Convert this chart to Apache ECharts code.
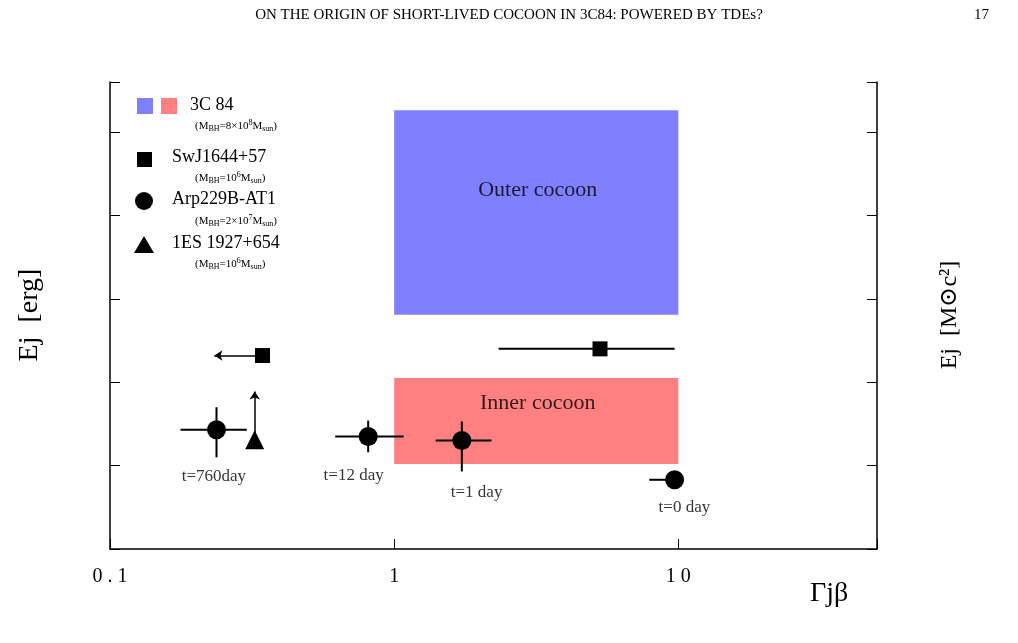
<!DOCTYPE html>
<html><head><meta charset="utf-8">
<script src="https://cdn.jsdelivr.net/npm/echarts@6/dist/echarts.min.js"></script>
<style>html,body{margin:0;background:#fff}#c{width:1018px;height:643px}</style>
</head><body><div id="c"></div>
<script>
// Data (real values)
const xRange = [0.1, 50];
const yRange = [Math.pow(10,49.7), Math.pow(10,55.3)];
const outerCocoon = {x:[1,10], y:[Math.pow(10,52.51), Math.pow(10,54.96)]};
const innerCocoon = {x:[1,10], y:[Math.pow(10,50.72), Math.pow(10,51.75)]};
const swj = {x:5.3, y:Math.pow(10,52.1), xerr:[2.33,9.7]};
const swjLimit = {x:0.344, y:Math.pow(10,52.02), to:0.233};
const arp = [
  {x:0.237,y:Math.pow(10,51.13),xerr:[0.177,0.303],yerr:[Math.pow(10,50.80),Math.pow(10,51.40)],label:'t=760day'},
  {x:0.81,y:Math.pow(10,51.05),xerr:[0.62,1.08],yerr:[Math.pow(10,50.86),Math.pow(10,51.24)],label:'t=12 day'},
  {x:1.73,y:Math.pow(10,51.0),xerr:[1.4,2.2],yerr:[Math.pow(10,50.63),Math.pow(10,51.23)],label:'t=1 day'},
  {x:9.7,y:Math.pow(10,50.53),xerr:[7.9,9.7],yerr:null,label:'t=0 day'}
];
const es1927 = {x:0.323, y:Math.pow(10,51.01), to:Math.pow(10,51.59)};
const labelPos = [[0.232,Math.pow(10,50.57)],[0.72,Math.pow(10,50.58)],[1.95,Math.pow(10,50.38)],[10.5,Math.pow(10,50.2)]];

const L = Math.log10;
const F = '"Liberation Serif","DejaVu Serif",serif';
const series = [];
function seg(a,b){series.push({type:'line',data:[a,b],symbol:'none',lineStyle:{color:'#000',width:2},silent:true,z:3});}
function rect(r,color){series.push({type:'line',data:[],markArea:{silent:true,itemStyle:{color:color,opacity:1},data:[[{coord:[L(r.x[0]),L(r.y[0])]},{coord:[L(r.x[1]),L(r.y[1])]}]]}});}
rect(outerCocoon,'#8080ff'); rect(innerCocoon,'#ff8080');
seg([L(swj.xerr[0]),L(swj.y)],[L(swj.xerr[1]),L(swj.y)]);
arp.forEach(p=>{seg([L(p.xerr[0]),L(p.y)],[L(p.xerr[1]),L(p.y)]); if(p.yerr) seg([L(p.x),L(p.yerr[0])],[L(p.x),L(p.yerr[1])]);});
series.push({type:'line',data:[],markLine:{silent:true,symbol:['none','arrow'],symbolSize:8,label:{show:false},lineStyle:{color:'#000',width:1.5,type:'solid'},data:[
 [{coord:[L(swjLimit.x),L(swjLimit.y)]},{coord:[L(swjLimit.to),L(swjLimit.y)]}],
 [{coord:[L(es1927.x),L(es1927.y)]},{coord:[L(es1927.x),L(es1927.to)]}]]}});
const blk = {color:'#000',opacity:1};
series.push({type:'scatter',symbol:'rect',symbolSize:15,itemStyle:blk,z:5,data:[[L(swj.x),L(swj.y)],[L(swjLimit.x),L(swjLimit.y)]]});
series.push({type:'scatter',symbol:'circle',symbolSize:19,itemStyle:blk,z:5,data:arp.map(p=>[L(p.x),L(p.y)])});
series.push({type:'scatter',symbol:'triangle',symbolSize:19,itemStyle:blk,z:5,data:[[L(es1927.x),L(es1927.y)]]});
series.push({type:'scatter',symbolSize:0,z:6,data:labelPos.map((p,i)=>({value:[L(p[0]),L(p[1])],label:{show:true,formatter:arp[i].label,position:'inside',fontFamily:F,fontSize:17,color:'#000'}}))});
series.push({type:'scatter',symbolSize:0,z:6,data:[
 {value:[L(3.2),L(Math.pow(10,54.0))],label:{show:true,formatter:'Outer cocoon',position:'inside',fontFamily:F,fontSize:22,color:'#000'}},
 {value:[L(3.2),L(Math.pow(10,51.45))],label:{show:true,formatter:'Inner cocoon',position:'inside',fontFamily:F,fontSize:22,color:'#000'}}]});

const sub = {t:{fontFamily:F,fontSize:11,color:'#000'},s:{fontFamily:F,fontSize:8,color:'#000',verticalAlign:'bottom',padding:[6,0,0,0]},p:{fontFamily:F,fontSize:8,color:'#000',padding:[0,0,6,0]}};
function mbh(pre,exp){return '{t|(M}{s|BH}{t|='+pre+'10}{p|'+exp+'}{t|M}{s|sun}{t|)}';}
const chart = echarts.init(document.getElementById('c'));
const axLine = {show:true,onZero:false,lineStyle:{color:'#000',width:1.5}};
const tick = {inside:true,length:10,lineStyle:{color:'#000'}};
chart.setOption({
 animation:false,
 grid:{left:110,right:141,top:82,bottom:94},
 xAxis:{type:'value',min:L(xRange[0]),max:L(xRange[1]),interval:1,
  axisLine:axLine,axisTick:tick,splitLine:{show:false},
  axisLabel:{formatter:v=>({'-1':'0 . 1','0':'1','1':'1 0'})[String(v)]||'',fontFamily:F,fontSize:20,color:'#000',margin:18}},
 yAxis:[{type:'value',min:L(yRange[0]),max:L(yRange[1]),interval:1,
  axisLine:axLine,axisTick:tick,splitLine:{show:false},
  axisLabel:{formatter:v=>Number.isInteger(v)?'{b|1 0}{e|'+v+'}':'',margin:8,rich:{b:{fontFamily:F,fontSize:21,color:'#000'},e:{fontFamily:F,fontSize:14,color:'#000',padding:[0,0,12,3]}}}},
  {type:'value',position:'right',min:L(yRange[0]),max:L(yRange[1]),interval:1,
  axisLine:axLine,axisTick:tick,splitLine:{show:false},
  axisLabel:{formatter:v=>{if(!Number.isInteger(v))return '';const e=v-55+1; if(e===1) return '{b|10}'; return '{b|10}{e|'+e+'}';},margin:4,rich:{b:{fontFamily:F,fontSize:21,color:'#000'},e:{fontFamily:F,fontSize:14,color:'#000',padding:[0,0,12,0]}}}}],
 series:series,
 graphic:[
  {type:'text',left:'center',top:8,style:{text:'ON THE ORIGIN OF SHORT-LIVED COCOON IN 3C84: POWERED BY TDEs?',font:'15px '+F,fill:'#000'}},
  {type:'text',left:974,top:8,style:{text:'17',font:'15px '+F,fill:'#000'}},
  {type:'text',left:810,top:580,style:{text:'Γjβ',font:'28px '+F,fill:'#000'}},
  {type:'text',x:30,y:315,rotation:Math.PI/2,style:{text:'Ej  [erg]',font:'28px '+F,fill:'#000',align:'center',verticalAlign:'middle'}},
  {type:'text',x:950,y:315,rotation:Math.PI/2,style:{text:'Ej  [M⊙c²]',font:'24px '+F,fill:'#000',align:'center',verticalAlign:'middle'}},
  {type:'rect',shape:{x:137,y:98,width:16,height:16},style:{fill:'#8080ff'}},
  {type:'rect',shape:{x:161,y:98,width:16,height:16},style:{fill:'#ff8080'}},
  {type:'text',left:190,top:96,style:{text:'3C 84',font:'18px '+F,fill:'#000'}},
  {type:'text',left:195,top:119,style:{text:mbh('8×','8'),rich:sub}},
  {type:'rect',shape:{x:137,y:152,width:15,height:15},style:{fill:'#000'}},
  {type:'text',left:172,top:148,style:{text:'SwJ1644+57',font:'18px '+F,fill:'#000'}},
  {type:'text',left:195,top:171,style:{text:mbh('','6'),rich:sub}},
  {type:'circle',shape:{cx:144,cy:201,r:9},style:{fill:'#000'}},
  {type:'text',left:172,top:190,style:{text:'Arp229B-AT1',font:'18px '+F,fill:'#000'}},
  {type:'text',left:195,top:214,style:{text:mbh('2×','7'),rich:sub}},
  {type:'polygon',shape:{points:[[144,236],[134,253],[154,253]]},style:{fill:'#000'}},
  {type:'text',left:172,top:234,style:{text:'1ES 1927+654',font:'18px '+F,fill:'#000'}},
  {type:'text',left:195,top:257,style:{text:mbh('','6'),rich:sub}}
 ]
});
</script></body></html>
